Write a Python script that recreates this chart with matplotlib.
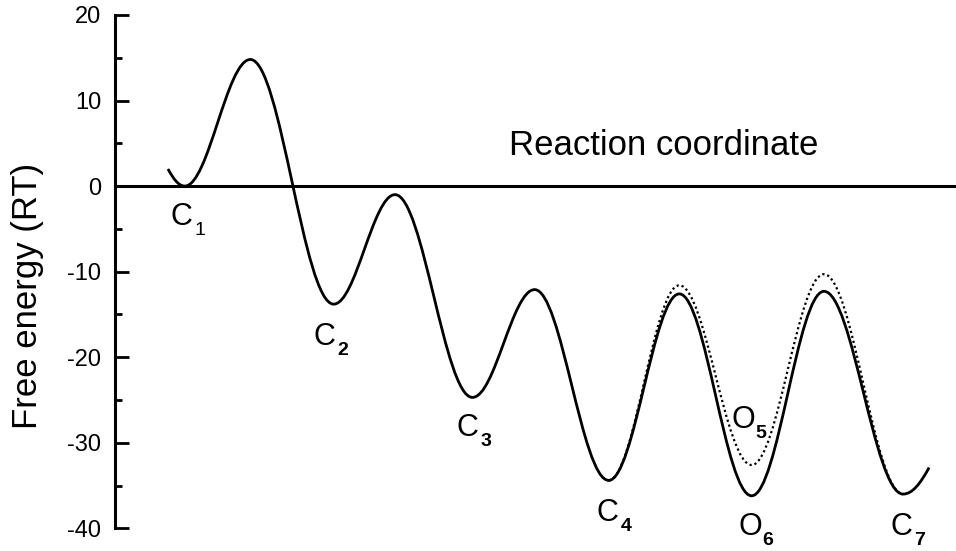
import matplotlib
matplotlib.use("Agg")
import matplotlib.pyplot as plt
from matplotlib.path import Path
from matplotlib.patches import PathPatch
from matplotlib.ticker import MultipleLocator

# 自由能曲线的极值点（反应坐标为任意单位，0-100）
x_solid = [6.3, 8.3, 16.1, 26.0, 33.3, 42.5, 49.9, 58.7, 67.1, 75.7, 84.3, 93.7, 96.8]
g_solid = [2.0, 0.0, 14.8, -13.8, -1.0, -24.7, -12.1, -34.4, -12.6, -36.2, -12.3, -36.0, -32.9]
# 虚线：O5 开放态的另一条路径
x_dotted = [58.7, 67.1, 75.7, 84.3, 93.7]
g_dotted = [-34.4, -11.6, -32.6, -10.3, -36.0]

state_letters = ["C", "C", "C", "C", "O", "O", "C"]
state_subs = ["1", "2", "3", "4", "5", "6", "7"]
# 标签位置（左边缘x，基线y）
label_pos = [(6.56, -4.53), (23.6, -18.56), (40.6, -29.2), (57.25, -39.15),
             (73.3, -28.3), (74.14, -40.78), (92.2, -40.78)]

y_ticks = [-40, -30, -20, -10, 0, 10, 20]

plt.rcParams["font.family"] = ["Liberation Sans", "DejaVu Sans"]


def smooth_path(xs, ys, open_start=False, open_end=False, h=0.364):
    """极值点之间用三次贝塞尔连接，极值处切线水平"""
    verts = [(xs[0], ys[0])]
    codes = [Path.MOVETO]
    n = len(xs)
    for i in range(n - 1):
        x0, y0, x1, y1 = xs[i], ys[i], xs[i + 1], ys[i + 1]
        dx = x1 - x0
        if open_start and i == 0:
            c1 = (x0 + dx / 3, y0 + (y1 - y0) * 0.6)
        else:
            c1 = (x0 + h * dx, y0)
        if open_end and i == n - 2:
            c2 = (x1 - dx / 3, y1 - (y1 - y0) * 0.6)
        else:
            c2 = (x1 - h * dx, y1)
        verts += [c1, c2, (x1, y1)]
        codes += [Path.CURVE4] * 3
    return Path(verts, codes)


fig = plt.figure(figsize=(9.56, 5.51), dpi=100)
ax = fig.add_axes([0.1203, 0.0412, 0.8797, 0.9316])

ax.set_xlim(0, 100)
ax.set_ylim(-40, 20)

dot = PathPatch(smooth_path(x_dotted, g_dotted), fill=False, lw=1.6,
                ls=(0, (1, 1.3)), color="black", zorder=2, clip_on=False)
ax.add_patch(dot)
solid = PathPatch(smooth_path(x_solid, g_solid, open_start=True, open_end=True),
                  fill=False, lw=2.0, color="black", zorder=3, clip_on=False)
ax.add_patch(solid)

ax.axhline(0, color="black", lw=2.2, clip_on=False, zorder=1)

# 状态标签：字母 + 下标（下标单独画，便于控制间距）
for letter, sub, (lx, ly) in zip(state_letters, state_subs, label_pos):
    ax.text(lx, ly, letter, fontsize=22, ha="left", va="baseline", clip_on=False)
    ax.annotate(sub, xy=(lx, ly), xytext=(17.3, -7.2), textcoords="offset points",
                fontsize=14, ha="left", va="baseline",
                fontweight="normal" if sub == "1" else "bold", annotation_clip=False)

ax.text(46.83, 3.58, "Reaction coordinate", fontsize=25, ha="left", va="baseline")

# 坐标轴样式：只保留左轴
for s in ["top", "right", "bottom"]:
    ax.spines[s].set_visible(False)
ax.spines["left"].set_linewidth(2.2)
ax.set_xticks([])
ax.set_yticks(y_ticks)
ax.set_yticklabels([str(t) for t in y_ticks])
ax.yaxis.set_minor_locator(MultipleLocator(5))
ax.tick_params(axis="y", which="major", direction="in", length=10, width=2,
               labelsize=17, pad=10)
ax.tick_params(axis="y", which="minor", direction="in", length=5, width=2)

ax.set_ylabel("Free energy (RT)", fontsize=25, va="center")
ax.yaxis.set_label_coords(-0.1046, 0.4535)

fig.savefig("out.png", dpi=100)
